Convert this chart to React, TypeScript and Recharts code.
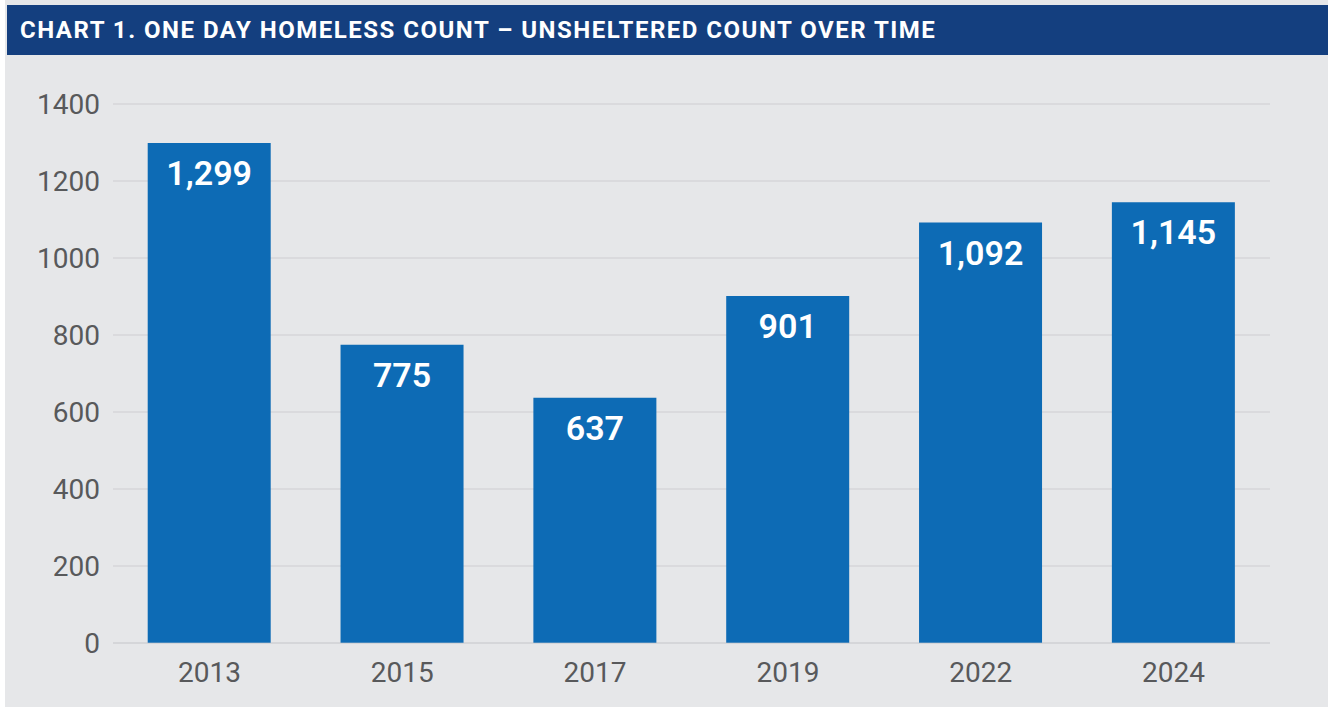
import { BarChart, Bar, XAxis, YAxis, CartesianGrid, LabelList, ReferenceLine } from "recharts"

const years = ["2013", "2015", "2017", "2019", "2022", "2024"]
const unsheltered = [1299, 775, 637, 901, 1092, 1145]
const yTicks = [0, 200, 400, 600, 800, 1000, 1200, 1400]

const data = years.map((year, i) => ({ year, count: unsheltered[i] }))

const ValueLabel = (props: any) => {
  const { x, y, width, value } = props
  return (
    <text
      x={x + width / 2}
      y={y + 42}
      fill="#ffffff"
      textAnchor="middle"
      fontSize={34}
      fontWeight={600}
      fontFamily="Roboto, sans-serif"
    >
      {value.toLocaleString("en-US")}
    </text>
  )
}

export default function App() {
  return (
    <div style={{ position: "absolute", left: 0, top: 0, width: 1328, height: 707, background: "#ffffff" }}>
      <div style={{ position: "absolute", left: 5, top: 0, width: 1323, height: 707, background: "#e6e7e9" }} />
      <div
        style={{
          position: "absolute",
          left: 7,
          top: 5,
          width: 1321,
          height: 50,
          background: "#143f7f",
          color: "#ffffff",
          fontFamily: "Roboto, sans-serif",
          fontWeight: 700,
          fontSize: 24,
          lineHeight: "50px",
          paddingLeft: 13,
          boxSizing: "border-box",
          letterSpacing: 1.5,
          whiteSpace: "nowrap",
        }}
      >
        CHART 1. ONE DAY HOMELESS COUNT – UNSHELTERED COUNT OVER TIME
      </div>
      <div style={{ position: "absolute", left: 0, top: 0 }}>
        <BarChart
          width={1328}
          height={707}
          data={data}
          margin={{ top: 104, right: 58, left: 0, bottom: 0 }}
          barCategoryGap="18%"
        >
          <CartesianGrid vertical={false} stroke="#cdced2" strokeWidth={1.2} />
          <XAxis
            dataKey="year"
            axisLine={false}
            tickLine={false}
            tickSize={0}
            tickMargin={19}
            height={64}
            tick={{ fill: "#58595b", fontSize: 28, fontFamily: "Roboto, sans-serif" }}
          />
          <YAxis
            domain={[0, 1400]}
            ticks={yTicks}
            width={113}
            axisLine={false}
            tickLine={false}
            tickSize={0}
            tickMargin={13}
            tick={{ fill: "#58595b", fontSize: 28, fontFamily: "Roboto, sans-serif" }}
          />
          <Bar dataKey="count" fill="#0d6bb5" isAnimationActive={false}>
            <LabelList dataKey="count" content={ValueLabel} />
          </Bar>
          <ReferenceLine y={0} stroke="#cdced2" strokeWidth={1.2} strokeOpacity={0.6} />
        </BarChart>
      </div>
    </div>
  )
}
